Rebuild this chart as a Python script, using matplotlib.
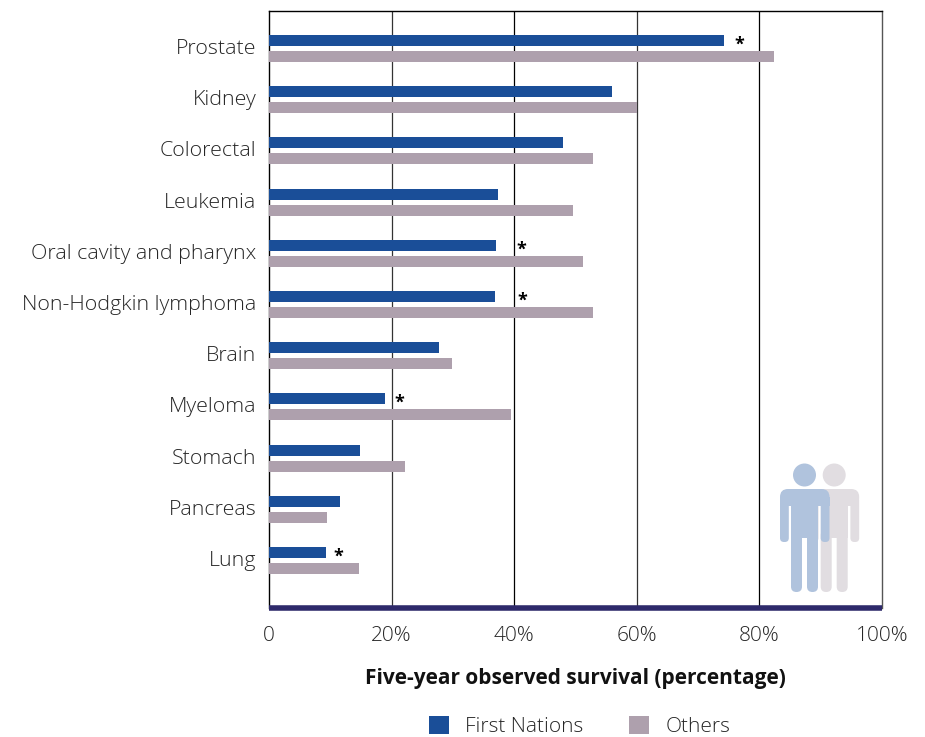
import matplotlib
matplotlib.use("Agg")
import matplotlib.pyplot as plt
from matplotlib.patches import FancyBboxPatch, Circle, Rectangle
from matplotlib.transforms import Affine2D, ScaledTranslation

categories = ["Prostate", "Kidney", "Colorectal", "Leukemia", "Oral cavity and pharynx",
              "Non-Hodgkin lymphoma", "Brain", "Myeloma", "Stomach", "Pancreas", "Lung"]
first_nations = [74.3, 56.0, 48.0, 37.4, 37.0, 36.9, 27.7, 18.9, 14.8, 11.6, 9.3]
others = [82.4, 60.0, 52.8, 49.6, 51.2, 52.9, 29.8, 39.4, 22.2, 9.4, 14.7]
significant = ["Prostate", "Oral cavity and pharynx", "Non-Hodgkin lymphoma", "Myeloma", "Lung"]
xticks = [0, 20, 40, 60, 80, 100]
xticklabels = ["0", "20%", "40%", "60%", "80%", "100%"]
star_gap = {"Prostate": 15, "Oral cavity and pharynx": 26, "Non-Hodgkin lymphoma": 27, "Myeloma": 14, "Lung": 12}

BLUE, GREY, TXT = "#1a4e98", "#aea0ad", "#262626"
plt.rcParams["font.family"] = ["Open Sans", "DejaVu Sans"]
W, H = 925, 737
fig = plt.figure(figsize=(W / 100, H / 100), dpi=100)
L, R, T, B = 269, 882, 11, 608
ax = fig.add_axes([L / W, 1 - B / H, (R - L) / W, (B - T) / H])
ax.set_xlim(0, 100)
step = 51.2
ax.set_ylim((B - 48.5) / step, (T - 48.5) / step)

bh, off = 11 / step, 8 / step
for i, (c, a, b) in enumerate(zip(categories, first_nations, others)):
    ax.barh(i - off, a, height=bh, color=BLUE, zorder=3)
    ax.barh(i + off, b, height=bh, color=GREY, zorder=3)
    if c in significant:
        ax.annotate("*", (a, i - off), xytext=(star_gap[c] * 0.72, -3), textcoords="offset points",
                    ha="center", va="center", fontsize=13, fontweight="bold", color="black", zorder=4)

ax.set_xticks(xticks, xticklabels, fontsize=15, color=TXT, fontweight="light")
ax.set_yticks(range(len(categories)), categories, fontsize=15.4, color=TXT, fontweight="light")
ax.tick_params(axis="both", length=0)
ax.tick_params(axis="x", pad=13)
ax.tick_params(axis="y", pad=9)
shift = ScaledTranslation(0, 2 / 100, fig.dpi_scale_trans)
for t in ax.get_yticklabels():
    t.set_transform(t.get_transform() + shift)
for v, col in zip(xticks[1:-1], ["#333333", "#000000", "#333333", "#000000"]):
    ax.axvline(v, color=col, lw=0.9, zorder=1)
for s in ("top", "left", "right"):
    ax.spines[s].set_linewidth(1.0)
ax.spines["right"].set_color("#555555")
ax.spines["bottom"].set_linewidth(4)
ax.spines["bottom"].set_color("#2e2a6b")
ax.spines["bottom"].set_capstyle("butt")
ax.set_xlabel("Five-year observed survival (percentage)", fontsize=15, fontweight="bold",
              color="#111111", labelpad=15.5)

# person icons, in pixel coordinates of the figure
px = Affine2D().scale(1 / W, -1 / H).translate(0, 1) + fig.transFigure


def person(dx, color, z):
    def rr(x0, y0, x1, y1, r):
        fig.add_artist(FancyBboxPatch((x0 + r + dx, y0 + r), x1 - x0 - 2 * r, y1 - y0 - 2 * r,
                                      boxstyle=f"round,pad={r},rounding_size={r}", transform=px,
                                      fc=color, ec="none", zorder=z))

    def rect(x0, y0, x1, y1):
        fig.add_artist(Rectangle((x0 + dx, y0), x1 - x0, y1 - y0, transform=px, fc=color, ec="none", zorder=z))
    fig.add_artist(Circle((804.5 + dx, 475), 11.5, transform=px, fc=color, ec="none", zorder=z))
    rr(780, 489, 829.5, 506, 8)
    rect(780, 497, 829.5, 503)
    rr(780, 497, 788.8, 542, 4)
    rect(780, 497, 788.8, 506)
    rr(820.7, 497, 829.5, 542, 4)
    rect(820.7, 497, 829.5, 506)
    rect(791, 497, 818, 538)
    rr(791, 530, 802, 592, 5.4)
    rr(807, 530, 818, 592, 5.4)


person(29.7, "#e1dde1", 5)
person(0, "#b0c3dd", 6)

handles = [Rectangle((0, 0), 1, 1, fc=BLUE), Rectangle((0, 0), 1, 1, fc=GREY)]
leg = fig.legend(handles, ["First Nations", "Others"], ncol=2, frameon=False, fontsize=15,
                 loc="center left", bbox_to_anchor=(429 / W, 1 - 726.5 / H), borderpad=0, borderaxespad=0,
                 handlelength=0.96, handleheight=1.0, handletextpad=0.77, columnspacing=2.2)
for t in leg.get_texts():
    t.set_color(TXT)
    t.set_fontweight("light")
fig.savefig("out.png", dpi=100)
